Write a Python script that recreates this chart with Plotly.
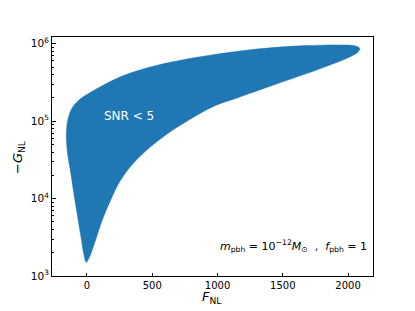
import plotly.graph_objects as go

# boundary of the SNR<5 region (clockwise from bottom tip)
fnl = [-5, -26, -46, -89, -128, -147, -158, -154, -137, -110, -50, 25, 102, 285, 537, 866,
       1172, 1424, 1682, 1936, 2051, 2089, 2074, 2013, 1682, 1424, 1172, 981, 759, 622,
       484, 350, 250, 178, 117, 71, 29, 10, -5]
gnl = [1500, 1980, 3184, 8750, 23330, 36400, 60400, 88700, 121000, 152000, 195000, 235000,
       278600, 392500, 528000, 679000, 807000, 893000, 948000, 966000, 942000, 875000,
       777000, 676000, 412000, 291500, 206000, 158500, 98600, 70000, 46300, 28000,
       16500, 9290, 5280, 3090, 1923, 1633, 1500]

x_ticks = [0, 500, 1000, 1500, 2000]
y_ticks = [1e3, 1e4, 1e5, 1e6]
y_ticktext = ["10<sup>3</sup>", "10<sup>4</sup>", "10<sup>5</sup>", "10<sup>6</sup>"]

FONT = "DejaVu Sans"
L, R, T, B = 52, 42, 37, 35
W, H = 415, 311
pw, ph = W - L - R, H - T - B


def px(x):
    return (x - L) / pw


def py(y):
    return 1 - (y - T) / ph


fig = go.Figure()
fig.add_trace(go.Scatter(
    x=fnl, y=gnl, mode="lines", fill="toself", fillcolor="#1f77b4",
    line=dict(color="#1f77b4", width=0.5, shape="spline", smoothing=1.0),
    hoverinfo="skip", showlegend=False,
))

fig.update_layout(
    width=W, height=H,
    margin=dict(l=L, r=R, t=T, b=B),
    paper_bgcolor="white", plot_bgcolor="white",
    font=dict(family=FONT, size=10, color="black"),
    xaxis=dict(
        range=[-268, 2191], tickvals=x_ticks, ticks="inside", ticklen=3.5,
        tickcolor="black", showline=True, linecolor="black", linewidth=1,
        mirror=True, showgrid=False, zeroline=False, automargin=False,
        tickfont=dict(size=10),
    ),
    yaxis=dict(
        type="log", range=[3, 6.088], tickvals=y_ticks, ticktext=y_ticktext,
        ticks="inside", ticklen=3.5, tickcolor="black", showline=True,
        linecolor="black", linewidth=1, mirror=True, showgrid=False, zeroline=False,
        automargin=False, tickfont=dict(size=10.5),
        minor=dict(ticks="inside", ticklen=2, tickcolor="black", dtick="D1", showgrid=False),
    ),
    annotations=[
        dict(x=px(129), y=py(116), xref="paper", yref="paper", text="SNR &lt; 5",
             xanchor="center", yanchor="middle",
             showarrow=False, font=dict(size=12, color="white", family=FONT)),
        dict(x=px(369), y=py(246), xref="paper", yref="paper", xanchor="right",
             yanchor="middle",
             text="<i>m</i><sub>pbh</sub> = 10<sup>−12</sup><i>M</i><sub>⊙</sub>  ,  <i>f</i><sub>pbh</sub> = 1",
             showarrow=False, font=dict(size=11, color="black", family=FONT)),
        dict(x=px(212), y=py(297), xref="paper", yref="paper",
             xanchor="center", yanchor="middle",
             text="<i>F</i><sub>NL</sub>", showarrow=False,
             font=dict(size=13, color="black", family=FONT)),
        dict(x=px(18), y=py(157), xref="paper", yref="paper", textangle=-90,
             xanchor="center", yanchor="middle",
             text="−<i>G</i><sub>NL</sub>", showarrow=False,
             font=dict(size=13, color="black", family=FONT)),
    ],
)

fig.write_html(
    "out.html",
    config={"displayModeBar": False},
    post_script="document.body.style.margin='0';document.body.style.padding='0';",
)
